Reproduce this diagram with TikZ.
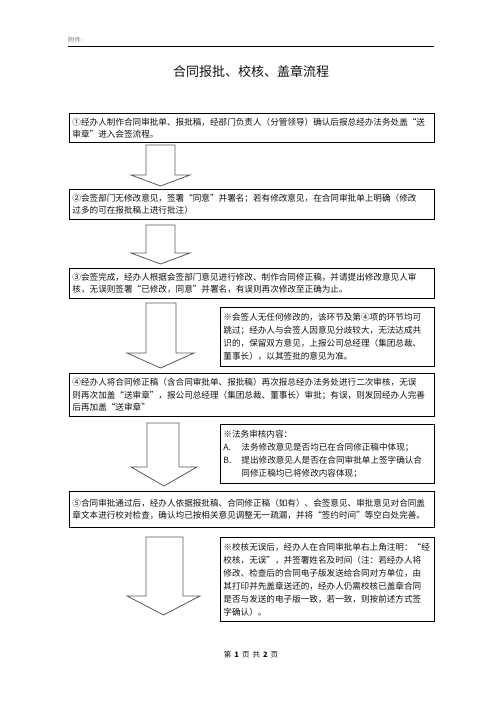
\documentclass[tikz,border=0pt]{standalone}
\usepackage{fontspec}
\setmainfont{Noto Sans CJK SC}
\usetikzlibrary{positioning}
\definecolor{ink}{HTML}{111111}
\definecolor{muted}{HTML}{777777}
\definecolor{arrowc}{HTML}{5A5A5A}

\begin{document}
\begin{tikzpicture}[
  x=1pt,y=-1pt,
  step box/.style={draw=black,line width=0.9pt,anchor=north west,text=ink,
                   text width=359pt,align=left,inner xsep=3pt,inner ysep=2pt,
                   font=\fontsize{8.6}{12.5}\selectfont},
  note box/.style={step box,text width=208pt,font=\fontsize{8.6}{13}\selectfont},
  blk/.style={draw=arrowc,fill=white,line width=0.8pt,line join=miter},
]
\useasboundingbox (0,0) rectangle (496,702);

%---------------------------------------------------------------- header ---
\node[anchor=base west,font=\fontsize{6.5}{7}\selectfont,text=muted,inner sep=0pt]
  (attach) at (68,42) {附件：};
\coordinate (ruleL) at (68,46);
\coordinate (ruleR) at (434,46);
\draw[line width=0.9pt] (ruleL) -- (ruleR);
\node[font=\fontsize{13}{15}\selectfont,text=ink] (title) at (251,71)
  {合同报批、校核、盖章流程};

%----------------------------------------------------------------- steps ---
\node[step box,minimum height=29pt] (s1) at (69,113)
  {①经办人制作合同审批单、报批稿，经部门负责人（分管领导）确认后报总经办法务处盖“送\\
   审章”进入会签流程。};
\node[step box,minimum height=30pt] (s2) at (69,189)
  {②会签部门无修改意见，签署“同意”并署名；若有修改意见，在合同审批单上明确（修改\\
   过多的可在报批稿上进行批注）};
\node[step box,minimum height=30pt] (s3) at (69,268)
  {③会签完成，经办人根据会签部门意见进行修改、制作合同修正稿，并请提出修改意见人审\\
   核，无误则签署“已修改，同意”并署名，有误则再次修改至正确为止。};
\node[step box,minimum height=43pt] (s4) at (69,373)
  {④经办人将合同修正稿（含合同审批单、报批稿）再次报总经办法务处进行二次审核，无误\\
   则再次加盖“送审章”，报公司总经理（集团总裁、董事长）审批；有误，则发回经办人完善\\
   后再加盖“送审章”};
\node[step box,minimum height=36pt] (s5) at (69,491)
  {⑤合同审批通过后，经办人依据报批稿、合同修正稿（如有）、会签意见、审批意见对合同盖\\
   章文本进行校对检查，确认均已按相关意见调整无一疏漏，并将“签约时间”等空白处完善。};

%----------------------------------------------------------------- notes ---
\node[note box,minimum height=59pt] (n1) at (220,307)
  {※会签人无任何修改的，该环节及第④项的环节均可\\
   跳过；经办人与会签人因意见分歧较大，无法达成共\\
   识的，保留双方意见，上报公司总经理（集团总裁、\\
   董事长），以其签批的意见为准。};
\node[note box,minimum height=59pt] (n2) at (220,424)
  {※法务审核内容：\\
   \makebox[18pt][l]{A.}法务修改意见是否均已在合同修正稿中体现；\\
   \makebox[18pt][l]{B.}提出修改意见人是否在合同审批单上签字确认合\\
   \hspace*{18pt}同修正稿均已将修改内容体现；};
\node[note box,minimum height=84pt] (n3) at (220,537)
  {※校核无误后，经办人在合同审批单右上角注明：“经\\
   校核，无误”，并签署姓名及时间（注：若经办人将\\
   修改、检查后的合同电子版发送给合同对方单位，由\\
   其打印并先盖章送还的，经办人仍需校核已盖章合同\\
   是否与发送的电子版一致，若一致，则按前述方式签\\
   字确认）。};

%---------------------------------------------------------------- arrows ---
\foreach \xl/\xr/\yt/\ys/\wl/\wr/\yb in {146/175/145/175/131/190/186,
    146/175/225/253/131/190/264, 146/176/303/353/127/194/368,
    147/179/423/467/131/197/486, 146/183/537/596/127/200/615}{
  \draw[blk] (\xl,\yt) -- (\xl,\ys) -- (\wl,\ys) -- ({(\wl+\wr)/2},\yb)
    -- (\wr,\ys) -- (\xr,\ys) -- (\xr,\yt) -- cycle;
}

%---------------------------------------------------------------- footer ---
\node[font=\fontsize{7.5}{9}\selectfont,text=ink] (page) at (251,655)
  {第\hspace{3pt}\textbf{1}\hspace{3pt}页\hspace{3pt}共\hspace{3pt}\textbf{2}\hspace{3pt}页};

\end{tikzpicture}
\end{document}
